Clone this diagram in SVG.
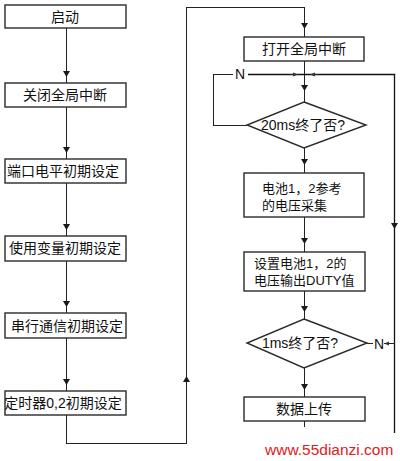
<svg xmlns="http://www.w3.org/2000/svg" width="400" height="461" viewBox="0 0 400 461">
<style>
.box{fill:#fff;stroke:#2a2a2a;stroke-width:1.4}
.ln{fill:none;stroke:#222;stroke-width:1;shape-rendering:crispEdges}
.rt{fill:none;stroke:#111;stroke-width:1.3}
.t{font-family:"Liberation Sans","Noto Sans CJK SC",sans-serif;font-size:14px;fill:#111}
.c{text-anchor:middle;dominant-baseline:central}
.s{font-size:13px;dominant-baseline:central}
.wm{font-family:"Liberation Sans",Arial,sans-serif;font-size:15.5px;fill:#e0201c}
</style>
<defs>
<marker id="ar" viewBox="0 0 6 8" refX="6" refY="4" markerWidth="6" markerHeight="8" markerUnits="userSpaceOnUse" orient="auto">
<path d="M0,0.5 L6,4 L0,7.5 Z" fill="#1a1a1a"/>
</marker>
<marker id="sm" viewBox="0 0 5 5" refX="5" refY="2.5" markerWidth="5" markerHeight="5" markerUnits="userSpaceOnUse" orient="auto">
<path d="M0,0.5 L5,2.5 L0,4.5 Z" fill="#333"/>
</marker>
</defs>
<rect width="400" height="461" fill="#fff"/>
<g id="connectors">
<path class="ln" marker-mid="url(#ar)" d="M66.5 28 V77 V83"/>
<path class="ln" marker-mid="url(#ar)" d="M66.5 107 V153 V159"/>
<path class="ln" marker-mid="url(#ar)" d="M66.5 183 V230 V236"/>
<path class="ln" marker-mid="url(#ar)" d="M66.5 261 V307 V313"/>
<path class="ln" marker-mid="url(#ar)" d="M66.5 338 V385 V391"/>
<path class="ln" d="M66.5 415 V443.5 H186.5 V378"/>
<path class="ln" marker-end="url(#ar)" d="M186.5 390 V376"/>
<path class="ln" d="M186.5 378 V7.5 H304.5 V28"/>
<path class="ln" marker-mid="url(#ar)" d="M304.5 7.5 V29 V37"/>
<path class="ln" marker-mid="url(#ar)" d="M304.5 61 V91 V102"/>
<path class="ln" d="M233 74.5 H213.5 V125.5 H247"/>
<path class="rt" d="M248 74.5 H394.5 V75"/>
<path class="rt" marker-mid="url(#ar)" d="M394.5 74 V229 V433"/>
<path class="ln" marker-end="url(#sm)" d="M290 74.5 H298"/>
<path class="ln" marker-end="url(#sm)" d="M318 74.5 H310"/>
<path class="ln" marker-mid="url(#ar)" d="M304.5 148 V165 V173"/>
<path class="ln" marker-mid="url(#ar)" d="M304.5 217 V244 V252"/>
<path class="ln" marker-mid="url(#ar)" d="M304.5 291 V312 V319"/>
<path class="ln" marker-mid="url(#ar)" d="M304.5 368 V390 V397"/>
<path class="ln" d="M304.5 421 V427"/>
<path class="ln" d="M367 343.5 H373"/>
<path class="ln" marker-end="url(#sm)" d="M394.5 343.5 H384"/>
<text class="t c" x="240" y="74">N</text>
<text class="t c" x="379" y="344">N</text>
</g>
<g id="n1"><rect class="box" x="5" y="5" width="121" height="23"/><text class="t c" x="65" y="17">启动</text></g>
<g id="n2"><rect class="box" x="5" y="83" width="121" height="24"/><text class="t c" x="65" y="95">关闭全局中断</text></g>
<g id="n3"><rect class="box" x="5" y="159" width="121" height="24"/><text class="t c" x="63" y="171">端口电平初期设定</text></g>
<g id="n4"><rect class="box" x="5" y="236" width="121" height="25"/><text class="t c" x="65" y="248">使用变量初期设定</text></g>
<g id="n5"><rect class="box" x="5" y="313" width="121" height="25"/><text class="t c" x="67" y="326">串行通信初期设定</text></g>
<g id="n6"><rect class="box" x="5" y="391" width="121" height="24"/><text class="t c" x="63" y="403">定时器0,2初期设定</text></g>
<g id="n7"><rect class="box" x="244" y="37" width="120" height="24"/><text class="t c" x="304" y="49">打开全局中断</text></g>
<g id="n8"><path class="box" d="M304 102 L366 125 L304 148 L247 125 Z"/><text class="t c" x="303" y="125">20ms终了否?</text></g>
<g id="n9"><rect class="box" x="244" y="173" width="120" height="44"/><text class="t s" x="262" y="188">电池1，2参考</text><text class="t s" x="262" y="205">的电压采集</text></g>
<g id="n10"><rect class="box" x="244" y="252" width="121" height="39"/><text class="t s" x="254" y="263">设置电池1，2的</text><text class="t s" x="254" y="280">电压输出DUTY值</text></g>
<g id="n11"><path class="box" d="M304 319 L367 343 L304 368 L247 343 Z"/><text class="t c" x="300" y="343">1ms终了否?</text></g>
<g id="n12"><rect class="box" x="244" y="397" width="121" height="24"/><text class="t c" x="304" y="409">数据上传</text></g>
<text class="wm" x="265" y="455">www.55dianzi.com</text>
</svg>
